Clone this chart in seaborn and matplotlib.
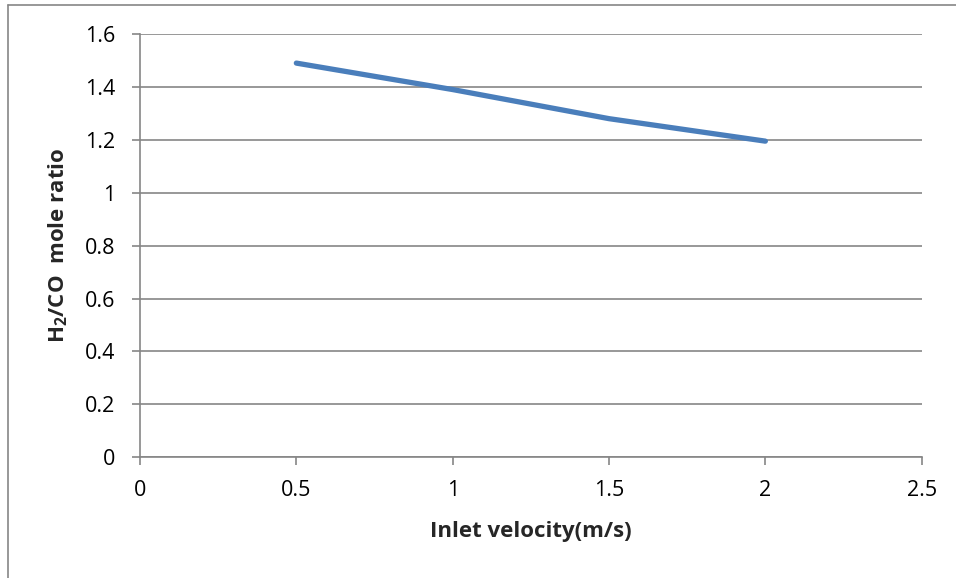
import matplotlib
matplotlib.use("Agg")
import matplotlib.pyplot as plt
from matplotlib.lines import Line2D
import seaborn as sns
import pandas as pd

# Inlet velocity (m/s) and resulting H2/CO mole ratio
velocity = [0.5, 1.0, 1.5, 2.0]
h2_co_ratio = [1.49, 1.39, 1.28, 1.195]

x_ticks = [0, 0.5, 1, 1.5, 2, 2.5]
x_tick_labels = ["0", "0.5", "1", "1.5", "2", "2.5"]
y_ticks = [0, 0.2, 0.4, 0.6, 0.8, 1.0, 1.2, 1.4, 1.6]
y_tick_labels = ["0", "0.2", "0.4", "0.6", "0.8", "1", "1.2", "1.4", "1.6"]

df = pd.DataFrame({"velocity": velocity, "ratio": h2_co_ratio})

sns.set_theme(style="white")
plt.rcParams["font.family"] = ["Open Sans", "DejaVu Sans"]
plt.rcParams["mathtext.fontset"] = "custom"
plt.rcParams["mathtext.rm"] = "Open Sans:bold"
plt.rcParams["mathtext.bf"] = "Open Sans:bold"
plt.rcParams["mathtext.it"] = "Open Sans:bold"

grey = "#868686"

fig = plt.figure(figsize=(9.56, 5.78), dpi=100)
ax = fig.add_axes([140 / 956, 1 - 457.3 / 578, (921.7 - 140) / 956, (457.3 - 34) / 578])

sns.lineplot(data=df, x="velocity", y="ratio", ax=ax, color="#4A7EBB",
             linewidth=3.8, solid_capstyle="round", solid_joinstyle="round")

ax.set_xlim(0, 2.5)
ax.set_ylim(0, 1.6)
ax.set_xticks(x_ticks)
ax.set_xticklabels(x_tick_labels)
ax.set_yticks(y_ticks)
ax.set_yticklabels(y_tick_labels)

ax.grid(axis="y", color=grey, linewidth=1.2)
ax.grid(axis="x", visible=False)
ax.set_axisbelow(True)

for side in ["top", "right"]:
    ax.spines[side].set_visible(False)
for side in ["left", "bottom"]:
    ax.spines[side].set_color(grey)
    ax.spines[side].set_linewidth(1.2)

ax.tick_params(axis="both", which="major", direction="out", length=6,
               width=1.2, color=grey, labelsize=15.5, labelcolor="black")
ax.tick_params(axis="y", pad=12)
ax.tick_params(axis="x", pad=10)
ax.yaxis.set_ticks_position("left")
ax.xaxis.set_ticks_position("bottom")

ax.set_xlabel("Inlet velocity(m/s)", fontsize=16, fontweight="bold", va="center")
ax.set_ylabel(r"H$_\mathbf{2}$/CO  mole ratio", fontsize=16, fontweight="bold", va="center")
ax.xaxis.set_label_coords(0.5, -0.176)
ax.yaxis.set_label_coords(-0.105, 0.5)

# Outer frame of the chart area
fig.add_artist(Line2D([8 / 956, 8 / 956], [0, 1 - 5 / 578], transform=fig.transFigure,
                      color=grey, linewidth=1.2))
fig.add_artist(Line2D([8 / 956, 1], [1 - 5 / 578, 1 - 5 / 578], transform=fig.transFigure,
                      color=grey, linewidth=1.2))

fig.savefig("out.png", dpi=100, facecolor="white")
